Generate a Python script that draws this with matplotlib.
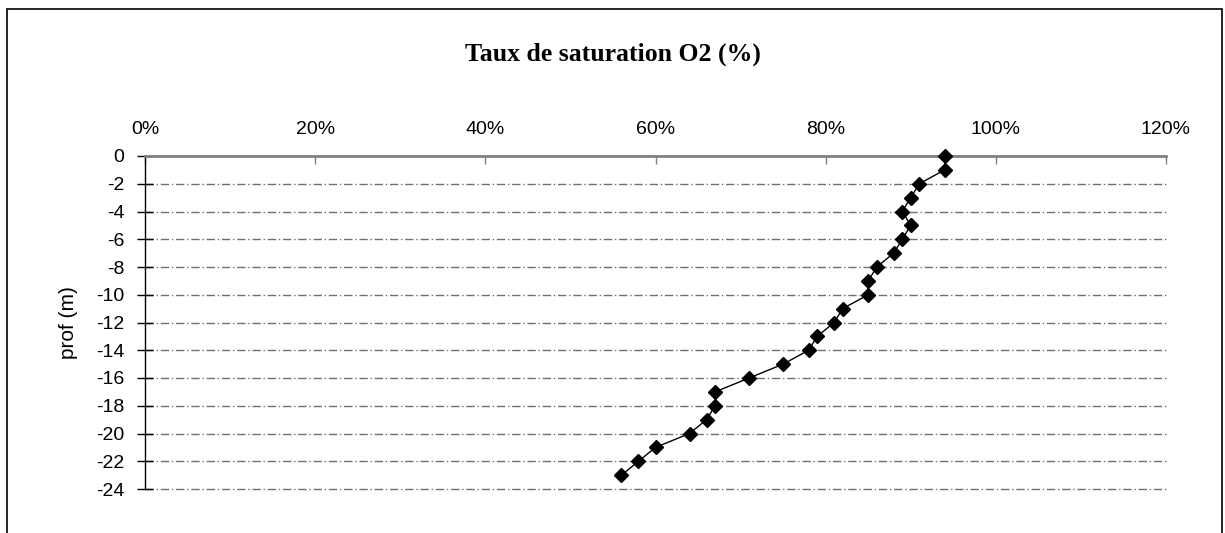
import matplotlib
matplotlib.use("Agg")
import matplotlib.pyplot as plt
from matplotlib.patches import Rectangle
from matplotlib.ticker import FuncFormatter

# ========= データ =========
depth = [0, -1, -2, -3, -4, -5, -6, -7, -8, -9, -10, -11,
         -12, -13, -14, -15, -16, -17, -18, -19, -20, -21, -22, -23]
saturation = [94, 94, 91, 90, 89, 90, 89, 88, 86, 85, 85, 82,
              81, 79, 78, 75, 71, 67, 67, 66, 64, 60, 58, 56]
x_ticks = [0, 20, 40, 60, 80, 100, 120]
y_ticks = list(range(0, -25, -2))

plt.rcParams["font.family"] = ["Liberation Sans", "DejaVu Sans"]
plt.rcParams["axes.unicode_minus"] = False  # 普通のハイフンで表示

fig = plt.figure(figsize=(12.25, 5.33), dpi=100)
ax = fig.add_axes([145 / 1225, 44 / 533, 1021 / 1225, 333 / 533])

ax.plot(saturation, depth, color="black", linewidth=1.0, clip_on=False, zorder=3,
        marker="D", markersize=7, markerfacecolor="black", markeredgecolor="black")

ax.set_xlim(0, 120)
ax.set_ylim(-24, 0)
ax.set_xticks(x_ticks)
ax.set_yticks(y_ticks)
ax.xaxis.set_major_formatter(FuncFormatter(lambda v, _: f"{int(v)}%"))
ax.xaxis.tick_top()
ax.tick_params(axis="x", direction="in", length=6, width=1, color="#808080",
               labelsize=14, pad=13)
ax.tick_params(axis="y", direction="inout", length=12, width=1, color="black",
               labelsize=14, pad=9)

# 横グリッド（一点鎖線）
for v in y_ticks[1:]:
    ax.axhline(v, color="#707070", linewidth=1, linestyle=(0, (6, 2, 1, 2)),
               zorder=0, clip_on=False)

ax.spines["right"].set_visible(False)
ax.spines["bottom"].set_visible(False)
ax.spines["top"].set_color("#808080")
ax.spines["top"].set_linewidth(2)
ax.spines["left"].set_color("black")
ax.spines["left"].set_linewidth(1)

ax.set_ylabel("prof (m)", fontsize=15, labelpad=13)

fig.text(0.5, 1 - 54 / 533, "Taux de saturation O2 (%)", ha="center", va="center",
         fontsize=18.5, fontweight="bold", family=["Liberation Serif", "DejaVu Serif"])

# 外枠
fig.patches.append(Rectangle((7 / 1225, -0.1), 1215 / 1225, 1.1 - 9 / 533,
                             transform=fig.transFigure, fill=False,
                             edgecolor="black", linewidth=1.2))

fig.savefig("out.png", dpi=100)
